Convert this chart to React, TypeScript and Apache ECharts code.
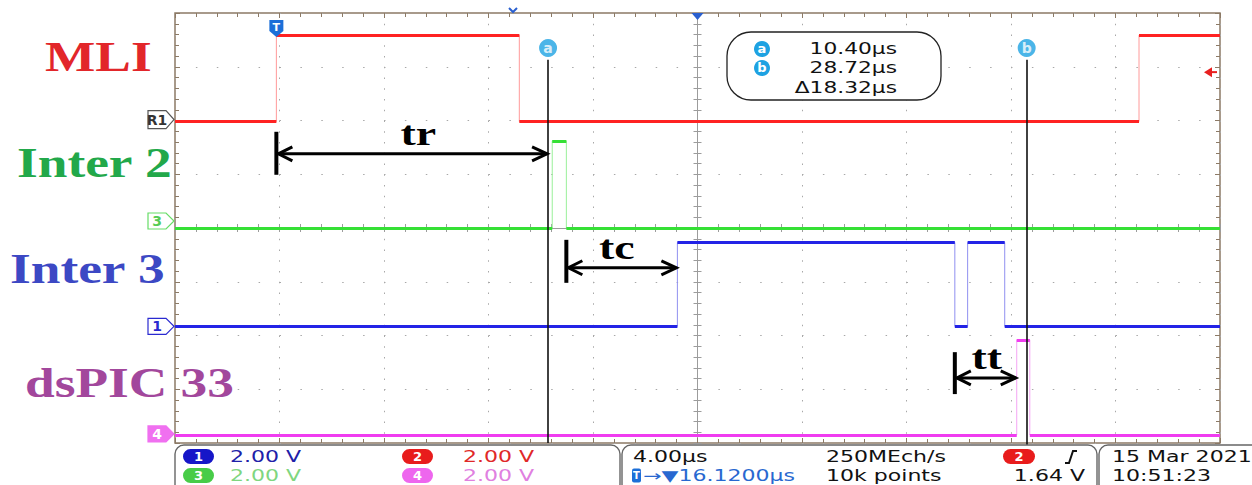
import React, { useEffect, useRef } from "react";
import * as echarts from "echarts";

// ---------------- data ----------------
const TIME_PER_DIV = 4; // µs / div
const VOLTS_PER_DIV = 2; // V / div
const TRIGGER_DELAY = 16.12; // µs from trigger to screen centre
const HALF_SCREEN_T = 20; // µs (5 div)
const HALF_SCREEN_DIV = 4; // div

const CHANNEL_NAMES = ["MLI", "Inter 2", "Inter 3", "dsPIC 33"];
// edge times in µs after the trigger; every edge toggles low/high, traces start low
const MLI_EDGES = [0.0, 9.3, 33.02];
const INTER2_EDGES = [10.56, 11.1];
const INTER3_EDGES = [15.35, 25.97, 26.46, 27.88];
const DSPIC_EDGES = [28.34, 28.84];
const CHANNEL_EDGES = [MLI_EDGES, INTER2_EDGES, INTER3_EDGES, DSPIC_EDGES];
// high level in volts
const HIGH_LEVELS_V = [3.22, 3.24, 3.12, 3.54];
// baseline offset of each channel, in divisions from the screen centre
const OFFSETS_DIV = [1.98, 0.0, -1.83, -3.85];
const CHANNEL_TAGS = ["R1", "3", "1", "4"];

const CURSOR_A = 10.4; // µs
const CURSOR_B = 28.72; // µs
const CURSOR_DELTA = 18.32; // µs

// measured intervals (µs after trigger)
const INTERVAL_LABELS = ["tr", "tc", "tt"];
const INTERVAL_START = [0.0, 11.1, 25.97];
const INTERVAL_END = [10.4, 15.35, 28.34];

const CH_SCALE_LABELS = ["2.00 V", "2.00 V", "2.00 V", "2.00 V"];
const CH_SCALE_IDS = ["1", "3", "2", "4"];
const TIMEBASE_LABEL = "4.00µs";
const DELAY_LABEL = "→▼16.1200µs";
const SAMPLE_RATE_LABEL = "250MEch/s";
const POINTS_LABEL = "10k points";
const TRIG_SOURCE = "2";
const TRIG_LEVEL_LABEL = "1.64 V";
const DATE_LABEL = "15 Mar 2021";
const TIME_LABEL = "10:51:23";

// ---------------- style / layout ----------------
const LABEL_COLORS = ["#e2262a", "#22a84a", "#3c48c4", "#a2479c"];
const TRACE_COLORS = ["#ff2222", "#35e035", "#2323e6", "#f03cf0"];
const EDGE_COLORS = ["#ff9a9a", "#9af09a", "#9090f0", "#f4a4f4"];
const LABEL_X = [45, 17, 10, 25];
const LABEL_Y = [57, 163, 269, 383];
const TAG_DY = [-2, -7, 0, -1];
const ARROW_Y_DIV = [1.38, -0.74, -2.79];
const ARROW_BAR = [
  [1.79, 0.99],
  [-0.22, -1.02],
  [-2.31, -3.09],
];
const CURSOR_TOP_DIV = 3.13;
const CURSOR_LABEL_DIV = 3.35;
const CURSOR_B_BOTTOM_DIV = -4.17;
const TRIG_MARK_DIV = 2.9;
const GRID = { left: 175, top: 13, width: 1045, height: 430 };
const BORDER = "#8c7a66";
const AXIS_GREY = "#9c9c9c";
const SANS = "DejaVu Sans";
const SERIF = "Liberation Serif";
const SX = 1.38; // horizontal stretch of the screenshot texts

const xOf = (t: number) => t - TRIGGER_DELAY;
const yOf = (ch: number, v: number) => OFFSETS_DIV[ch] + v / VOLTS_PER_DIV;

function stepPath(ch: number) {
  const pts: number[][] = [];
  let high = false;
  pts.push([-HALF_SCREEN_T, yOf(ch, 0)]);
  for (const e of CHANNEL_EDGES[ch]) {
    pts.push([xOf(e), yOf(ch, high ? HIGH_LEVELS_V[ch] : 0)]);
    high = !high;
    pts.push([xOf(e), yOf(ch, high ? HIGH_LEVELS_V[ch] : 0)]);
  }
  pts.push([HALF_SCREEN_T, yOf(ch, high ? HIGH_LEVELS_V[ch] : 0)]);
  return pts;
}

function levelSegments(ch: number) {
  const segs: any[] = [];
  let high = false;
  let start = -HALF_SCREEN_T;
  const edges = [...CHANNEL_EDGES[ch].map(xOf), HALF_SCREEN_T];
  for (const x of edges) {
    const y = yOf(ch, high ? HIGH_LEVELS_V[ch] : 0);
    segs.push({ coords: [[start, y], [x, y]] });
    start = x;
    high = !high;
  }
  return segs;
}

function axisX(extra: any) {
  return {
    type: "value",
    min: -HALF_SCREEN_T,
    max: HALF_SCREEN_T,
    interval: TIME_PER_DIV,
    axisLabel: { show: false },
    splitLine: { show: false },
    ...extra,
  };
}
function axisY(extra: any) {
  return {
    type: "value",
    min: -HALF_SCREEN_DIV,
    max: HALF_SCREEN_DIV,
    interval: 1,
    axisLabel: { show: false },
    splitLine: { show: false },
    ...extra,
  };
}

function buildOption(): any {
  const centreTick = (inside: boolean, idx: number) => ({
    axisLine: { show: true, onZero: true, onZeroAxisIndex: idx, lineStyle: { color: AXIS_GREY, width: 1 } },
    axisTick: { show: true, inside, length: 4, lineStyle: { color: AXIS_GREY } },
    minorTick: { show: true, splitNumber: 5, length: 4, lineStyle: { color: AXIS_GREY } },
  });
  const borderTick = (position: string) => ({
    position,
    axisLine: { show: false, onZero: false },
    axisTick: { show: true, inside: true, length: 5, lineStyle: { color: BORDER } },
    minorTick: { show: true, splitNumber: 5, length: 4, lineStyle: { color: BORDER } },
  });
  const series: any[] = [];
  for (let ch = 0; ch < 4; ch++) {
    series.push({
      type: "line",
      name: CHANNEL_NAMES[ch] + " edges",
      data: stepPath(ch),
      showSymbol: false,
      silent: true,
      lineStyle: { color: EDGE_COLORS[ch], width: 1 },
      z: 2,
    });
  }
  for (let ch = 0; ch < 4; ch++) {
    series.push({
      type: "lines",
      name: CHANNEL_NAMES[ch],
      coordinateSystem: "cartesian2d",
      polyline: false,
      silent: true,
      data: levelSegments(ch),
      lineStyle: { color: TRACE_COLORS[ch], width: 3, opacity: 1 },
      z: 3,
    });
  }
  series.push({
    type: "lines",
    name: "cursors",
    coordinateSystem: "cartesian2d",
    polyline: false,
    silent: true,
    clip: false,
    data: [
      { coords: [[xOf(CURSOR_A), CURSOR_TOP_DIV], [xOf(CURSOR_A), -HALF_SCREEN_DIV]] },
      { coords: [[xOf(CURSOR_B), CURSOR_TOP_DIV], [xOf(CURSOR_B), CURSOR_B_BOTTOM_DIV]] },
    ],
    lineStyle: { color: "#111", width: 1.6, opacity: 1 },
    z: 6,
  });
  series.push({
    type: "scatter",
    name: "cursor labels",
    silent: true,
    symbol: "circle",
    symbolSize: 18,
    itemStyle: { color: "#1ea2e2" },
    data: [
      { name: "a", value: [xOf(CURSOR_A), CURSOR_LABEL_DIV] },
      { name: "b", value: [xOf(CURSOR_B), CURSOR_LABEL_DIV] },
    ],
    label: {
      show: true,
      position: "inside",
      formatter: "{b}",
      color: "#fff",
      fontFamily: SANS,
      fontWeight: "bold",
      fontSize: 14,
    },
    z: 7,
  });

  return {
    animation: false,
    backgroundColor: "#fff",
    grid: { ...GRID, show: true, borderColor: BORDER, borderWidth: 1.5, backgroundColor: "transparent" },
    xAxis: [
      axisX({
        position: "bottom",
        ...centreTick(true, 0),
        splitLine: { show: true, lineStyle: { color: "#a8a8a8", width: 1, type: [1.5, 9.25] } },
      }),
      axisX({ position: "bottom", ...centreTick(false, 1) }),
      axisX(borderTick("top")),
      axisX(borderTick("bottom")),
    ],
    yAxis: [
      axisY({
        position: "left",
        ...centreTick(true, 0),
        splitLine: { show: true, lineStyle: { color: "#a8a8a8", width: 1, type: [1.5, 19.4] } },
      }),
      axisY({ position: "left", ...centreTick(false, 1) }),
      axisY(borderTick("left")),
      axisY(borderTick("right")),
    ],
    series,
  };
}

function txt(text: string, x: number, y: number, o: any = {}): any {
  const align = o.align || "left";
  return {
    type: "text",
    x,
    y,
    scaleX: o.scaleX ?? SX,
    z: o.z ?? 102,
    silent: true,
    style: {
      text,
      fill: o.fill || "#111",
      fontFamily: o.fontFamily || SANS,
      fontSize: o.fontSize || 16,
      fontWeight: o.fontWeight || "normal",
      align,
      textAlign: align,
      verticalAlign: "middle",
      textVerticalAlign: "middle",
    },
  };
}

function pill(label: string, x: number, yc: number, w: number, fill: string): any[] {
  return [
    {
      type: "rect",
      z: 100,
      silent: true,
      shape: { x, y: yc - 7.5, width: w, height: 15, r: 7.5 },
      style: { fill },
    },
    txt(label, x + w / 2, yc, { fill: "#fff", fontWeight: "bold", fontSize: 13, scaleX: 1, align: "center" }),
  ];
}

function buildGraphic(chart: any): any[] {
  const P = (x: number, y: number) => chart.convertToPixel({ xAxisIndex: 0, yAxisIndex: 0 }, [x, y]);
  const g: any[] = [];

  // channel names
  for (let ch = 0; ch < 4; ch++) {
    g.push(
      txt(CHANNEL_NAMES[ch], LABEL_X[ch], LABEL_Y[ch], {
        fill: LABEL_COLORS[ch],
        fontFamily: SERIF,
        fontWeight: "bold",
        fontSize: 42,
        scaleX: 1.27,
      })
    );
  }

  // channel offset tags on the left edge
  const tagStyles = [
    { fill: "#fff", stroke: "#555", text: "#333" },
    { fill: "#fff", stroke: "#66dd66", text: "#55cc55" },
    { fill: "#fff", stroke: "#2a2ad0", text: "#2a2ad0" },
    { fill: "#f070f0", stroke: "#f070f0", text: "#fff" },
  ];
  for (let ch = 0; ch < 4; ch++) {
    const [, yb] = P(-HALF_SCREEN_T, OFFSETS_DIV[ch]);
    const yc = yb + TAG_DY[ch];
    const h = ch === 0 ? 9 : 8;
    const s = tagStyles[ch];
    g.push({
      type: "polygon",
      z: 100,
      silent: true,
      shape: { points: [[148, yc - h], [166, yc - h], [174, yc], [166, yc + h], [148, yc + h]] },
      style: { fill: s.fill, stroke: s.stroke, lineWidth: 1.2 },
    });
    g.push(txt(CHANNEL_TAGS[ch], 157, yc, { fill: s.text, fontSize: 14, fontWeight: "bold", scaleX: 1, align: "center" }));
  }

  // trigger marker "T" at top
  const [tx] = P(xOf(0), 0);
  g.push({
    type: "polygon",
    z: 100,
    silent: true,
    shape: { points: [[tx - 7, 20], [tx + 7, 20], [tx + 7, 31], [tx, 37], [tx - 7, 31]] },
    style: { fill: "#1c6fd8" },
  });
  g.push(txt("T", tx, 27, { fill: "#fff", fontSize: 11, fontWeight: "bold", scaleX: 1, align: "center" }));
  // centre marker
  const [cx, topY] = P(0, HALF_SCREEN_DIV);
  g.push({
    type: "polygon",
    z: 100,
    silent: true,
    shape: { points: [[cx - 6, topY], [cx + 6, topY], [cx, topY + 7]] },
    style: { fill: "#2a60d0" },
  });
  g.push({
    type: "polyline",
    z: 100,
    silent: true,
    shape: { points: [[509, 8], [513, 12], [517, 8]] },
    style: { stroke: "#2a60d0", lineWidth: 2, fill: "none" },
  });
  // trigger level marker (right edge)
  const [rx, ry] = P(HALF_SCREEN_T, TRIG_MARK_DIV);
  g.push({
    type: "polygon",
    z: 100,
    silent: true,
    shape: { points: [[rx - 16, ry], [rx - 8, ry - 5], [rx - 8, ry + 5]] },
    style: { fill: "#e82020" },
  });
  g.push({
    type: "line",
    z: 100,
    silent: true,
    shape: { x1: rx - 9, y1: ry, x2: rx - 3, y2: ry },
    style: { stroke: "#e82020", lineWidth: 2 },
  });

  // interval arrows
  for (let i = 0; i < INTERVAL_LABELS.length; i++) {
    const [x1, ya] = P(xOf(INTERVAL_START[i]), ARROW_Y_DIV[i]);
    const [x2] = P(xOf(INTERVAL_END[i]), ARROW_Y_DIV[i]);
    const [, b1] = P(xOf(INTERVAL_START[i]), ARROW_BAR[i][0]);
    const [, b2] = P(xOf(INTERVAL_START[i]), ARROW_BAR[i][1]);
    const st = { stroke: "#000", lineWidth: 3, fill: "none", lineJoin: "miter" };
    g.push({ type: "line", z: 101, silent: true, shape: { x1, y1: b1, x2: x1, y2: b2 }, style: { stroke: "#000", lineWidth: 4 } });
    g.push({ type: "line", z: 101, silent: true, shape: { x1: x1 + 2, y1: ya, x2: x2 - 1, y2: ya }, style: { stroke: "#000", lineWidth: 3 } });
    g.push({ type: "polyline", z: 101, silent: true, shape: { points: [[x1 + 16, ya - 7], [x1 + 2, ya], [x1 + 16, ya + 7]] }, style: st });
    g.push({ type: "polyline", z: 101, silent: true, shape: { points: [[x2 - 16, ya - 7], [x2 - 1, ya], [x2 - 16, ya + 7]] }, style: st });
    g.push(
      txt(INTERVAL_LABELS[i], (x1 + x2) / 2 + (i === 1 ? -5 : i === 0 ? 6 : 1), ya - 20, {
        fill: "#000",
        fontFamily: SERIF,
        fontWeight: "bold",
        fontSize: 34,
        scaleX: 1.35,
        align: "center",
      })
    );
  }

  // cursor read-out box
  g.push({
    type: "rect",
    z: 100,
    silent: true,
    shape: { x: 727, y: 32, width: 214, height: 68, r: 24 },
    style: { fill: "#fff", stroke: "#222", lineWidth: 1.3 },
  });
  const boxRows = [49, 68, 88];
  ["a", "b"].forEach((l, i) => {
    g.push({ type: "circle", z: 101, silent: true, shape: { cx: 762, cy: boxRows[i], r: 8 }, style: { fill: "#1ea2e2" } });
    g.push(txt(l, 762, boxRows[i] - 1, { fill: "#fff", fontSize: 13, fontWeight: "bold", scaleX: 1, align: "center", z: 103 }));
  });
  const boxTexts = [
    CURSOR_A.toFixed(2) + "µs",
    CURSOR_B.toFixed(2) + "µs",
    "Δ" + CURSOR_DELTA.toFixed(2) + "µs",
  ];
  boxTexts.forEach((t, i) => g.push(txt(t, 897, boxRows[i], { align: "right", scaleX: 1.36, fill: "#111" })));

  // status bar
  const boxes = [
    [175, 620],
    [622, 1097],
    [1099, 1262],
  ];
  boxes.forEach(([a, b]) =>
    g.push({
      type: "rect",
      z: 99,
      silent: true,
      shape: { x: a, y: 445, width: b - a, height: 48, r: 9 },
      style: { fill: "#fff", stroke: "#666", lineWidth: 1.4 },
    })
  );
  const row = [456.5, 475.5];
  const fs = 15;
  const sx = 1.47;
  const pillColors = ["#1616c8", "#48cc48", "#e81c1c", "#ee66ee"];
  const scaleColors = ["#2020a8", "#7fd67f", "#e02828", "#e080e0"];
  const pillX = [183, 183, 402, 402];
  const textX = [230, 230, 463, 463];
  for (let i = 0; i < 4; i++) {
    g.push(...pill(CH_SCALE_IDS[i], pillX[i], row[i % 2], 31, pillColors[i]));
    g.push(txt(CH_SCALE_LABELS[i], textX[i], row[i % 2], { fill: scaleColors[i], fontSize: fs, scaleX: sx }));
  }
  g.push(txt(TIMEBASE_LABEL, 633, row[0], { fontSize: fs, scaleX: sx }));
  g.push({ type: "rect", z: 100, silent: true, shape: { x: 632, y: row[1] - 7, width: 9, height: 14, r: 2 }, style: { fill: "#1c6fd8" } });
  g.push(txt("T", 636.5, row[1], { fill: "#fff", fontSize: 10, fontWeight: "bold", scaleX: 1, align: "center" }));
  g.push(txt(DELAY_LABEL, 643, row[1], { fill: "#2868d0", fontSize: fs, scaleX: sx }));
  g.push(txt(SAMPLE_RATE_LABEL, 826, row[0], { fontSize: fs, scaleX: sx }));
  g.push(txt(POINTS_LABEL, 826, row[1], { fontSize: fs, scaleX: sx }));
  g.push(...pill(TRIG_SOURCE, 1003, row[0], 32, "#e81c1c"));
  g.push({
    type: "polyline",
    z: 100,
    silent: true,
    shape: { points: [[1065, 463], [1069, 463], [1073, 451], [1077, 451]] },
    style: { stroke: "#111", lineWidth: 2, fill: "none" },
  });
  g.push(txt(TRIG_LEVEL_LABEL, 1085, row[1], { align: "right", fontSize: fs, scaleX: sx }));
  g.push(txt(DATE_LABEL, 1112, row[0], { fontSize: fs, scaleX: sx }));
  g.push(txt(TIME_LABEL, 1112, row[1], { fontSize: fs, scaleX: sx }));
  return g;
}

export default function App() {
  const ref = useRef<HTMLDivElement>(null);
  useEffect(() => {
    const chart = echarts.init(ref.current!, null, { renderer: "svg" });
    chart.setOption(buildOption());
    chart.setOption({ graphic: buildGraphic(chart) });
    return () => chart.dispose();
  }, []);
  return (
    <div
      ref={ref}
      style={{ position: "fixed", left: 0, top: 0, width: 1252, height: 485, background: "#fff" }}
    />
  );
}
